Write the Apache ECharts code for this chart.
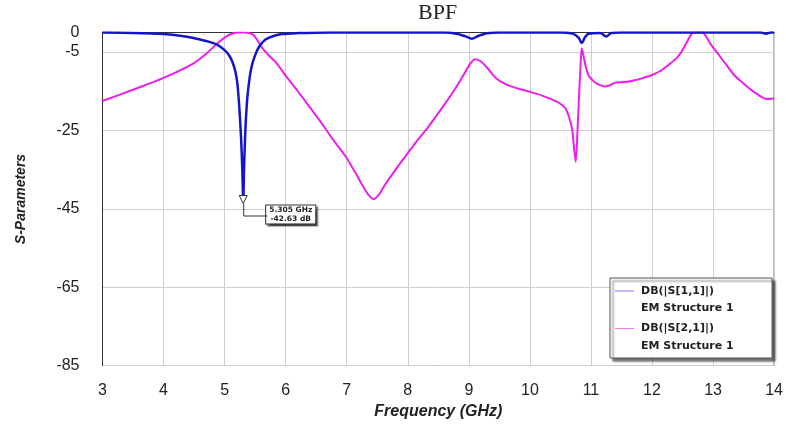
<!DOCTYPE html>
<html>
<head>
<meta charset="utf-8">
<title>BPF</title>
<script src="https://cdn.jsdelivr.net/npm/echarts@6/dist/echarts.min.js"></script>
<style>
  html, body { margin: 0; padding: 0; background: #fff; }
  #chart { width: 786px; height: 427px; }
</style>
</head>
<body>
<div id="chart"></div>
<script>
// Simulated S-parameters of the band-pass filter (EM Structure 1)
const seriesNames = ['DB(|S[1,1]|)', 'DB(|S[2,1]|)'];
const structureName = 'EM Structure 1';

// |S11| in dB
const freqS11 = [3.0, 3.5, 4.0, 4.3, 4.58, 4.75, 4.89, 5.0, 5.08, 5.13, 5.18, 5.21, 5.24, 5.27, 5.29,
  5.305, 5.32, 5.34, 5.37, 5.41, 5.45, 5.51, 5.57, 5.67, 5.8, 5.94, 6.2, 6.5, 7.0, 8.0, 8.6, 8.8,
  8.95, 9.05, 9.15, 9.3, 9.5, 10.5, 10.7, 10.8, 10.85, 10.9, 10.96, 11.15, 11.25, 11.33, 11.5,
  13.78, 13.87, 13.94, 14.0];
const dbS11 = [0, -0.1, -0.4, -0.9, -1.7, -2.4, -3.2, -4.5, -6.0, -7.6, -10.2, -13.2, -19, -27, -35,
  -42.63, -34, -25, -17, -11.5, -8.2, -5.4, -3.5, -1.8, -0.9, -0.4, -0.15, -0.05, 0, 0, 0, -0.3,
  -1.0, -1.6, -0.9, -0.2, 0, 0, -0.3, -1.4, -2.7, -1.3, -0.3, -0.15, -1.0, -0.15, 0,
  0, -0.35, 0, 0];

// |S21| in dB
const freqS21 = [3.0, 3.5, 4.0, 4.5, 4.7, 4.89, 5.03, 5.13, 5.22, 5.31, 5.4, 5.47, 5.53, 5.6, 5.72,
  5.85, 6.0, 6.2, 6.4, 6.55, 6.77, 6.98, 7.15, 7.25, 7.35, 7.44, 7.53, 7.63, 7.8, 7.96, 8.18, 8.34,
  8.55, 8.75, 8.9, 9.0, 9.1, 9.2, 9.3, 9.44, 9.6, 9.8, 9.99, 10.2, 10.35, 10.48, 10.58, 10.64,
  10.69, 10.72, 10.75, 10.78, 10.8, 10.83, 10.85, 10.88, 10.92, 10.97, 11.08, 11.16, 11.24, 11.32,
  11.4, 11.5, 11.62, 11.72, 11.85, 11.99, 12.15, 12.26, 12.4, 12.48, 12.56, 12.65, 12.7, 12.82,
  12.87, 12.95, 13.08, 13.2, 13.35, 13.5, 13.63, 13.75, 13.84, 13.92, 14.0];
const dbS21 = [-17.5, -14.6, -11.6, -7.8, -5.4, -2.7, -1.0, -0.25, 0, 0, -0.15, -0.6, -1.8, -3.6, -5.8,
  -7.8, -11, -15, -19.2, -22.3, -27.2, -31.6, -36, -38.8, -41.3, -42.5, -41.3, -38.8, -35, -31.6, -27.1, -24,
  -19.5, -15, -11.2, -8.5, -6.8, -7.4, -9.0, -11.6, -13.2, -14.3, -15.1, -16.1, -17.0, -18.0, -19.3, -21.5,
  -24.5, -29, -33, -25, -18, -8.5, -4.0, -6.1, -9.0, -11.2, -12.9, -13.5, -13.8, -13.4,
  -12.8, -12.7, -12.5, -12.2, -11.6, -10.9, -9.7, -8.4, -6.6, -5.0, -2.8, -0.3, 0, 0,
  -0.6, -2.7, -5.4, -7.9, -10.9, -13.0, -14.7, -16.0, -16.8, -17.0, -16.8];

// Marker placed on the S11 resonance
const markerFreq = [5.305];
const markerDb = [-42.63];

const lineColors = ['#1414c8', '#ee1eee'];
const legendLineColors = ['#7878f0', '#f27af2'];

const pairs = (xs, ys) => xs.map((x, i) => [x, ys[i]]);

const chart = echarts.init(document.getElementById('chart'), null, { renderer: 'canvas' });

const sansFont = 'Liberation Sans, Arial, sans-serif';
const wideFont = 'DejaVu Sans, Verdana, sans-serif';

const option = {
  backgroundColor: '#ffffff',
  animation: false,
  title: {
    text: 'BPF',
    left: 418,
    top: 2,
    padding: 0,
    textStyle: { fontFamily: 'Liberation Serif, Times New Roman, serif', fontWeight: 'normal', fontSize: 22, color: '#222' }
  },
  grid: {
    left: 102.5, right: 10, top: 32.5, bottom: 61.5,
    show: true, borderColor: '#555', borderWidth: 1, backgroundColor: '#fff'
  },
  xAxis: {
    type: 'value',
    min: 3, max: 14, interval: 1,
    name: 'Frequency (GHz)',
    nameLocation: 'middle',
    nameGap: 34,
    nameTextStyle: { fontFamily: sansFont, fontStyle: 'italic', fontWeight: 'bold', fontSize: 16, color: '#222' },
    axisLine: { show: true, lineStyle: { color: '#333', width: 1 } },
    axisTick: { show: false },
    axisLabel: { fontFamily: sansFont, fontSize: 16, color: '#222', margin: 17 },
    splitLine: { show: true, lineStyle: { color: '#cfcfcf', width: 1 } }
  },
  yAxis: {
    type: 'value',
    min: -85, max: 0, interval: 20,
    name: 'S-Parameters',
    nameLocation: 'middle',
    nameGap: 74,
    nameTextStyle: { fontFamily: sansFont, fontStyle: 'italic', fontWeight: 'bold', fontSize: 14, color: '#222' },
    axisLine: { show: true, lineStyle: { color: '#333', width: 1 } },
    axisTick: { show: false },
    axisLabel: { fontFamily: sansFont, fontSize: 16, color: '#222', margin: 23 },
    splitLine: { show: true, lineStyle: { color: '#cfcfcf', width: 1 } }
  },
  legend: {
    orient: 'vertical',
    left: 610, top: 278,
    padding: [7, 6, 6, 0],
    itemGap: 8,
    itemWidth: 0, itemHeight: 0,
    icon: 'rect',
    selectedMode: false,
    backgroundColor: '#fff',
    borderColor: '#555', borderWidth: 1,
    shadowColor: 'rgba(0,0,0,0.55)', shadowBlur: 2, shadowOffsetX: 3, shadowOffsetY: 3,
    data: seriesNames,
    formatter: (name) => {
      const i = seriesNames.indexOf(name);
      return '{b' + i + '|}{g|}{t|' + name + '}\n{s|}{g|}{t|' + structureName + '}';
    },
    textStyle: {
      rich: {
        b0: { width: 19, height: 1, lineHeight: 17.5, backgroundColor: legendLineColors[0] },
        b1: { width: 19, height: 1, lineHeight: 17.5, backgroundColor: legendLineColors[1] },
        s: { width: 19, lineHeight: 17.5 },
        g: { width: 7, lineHeight: 17.5 },
        t: { width: 125, fontFamily: wideFont, fontWeight: 'bold', fontSize: 11, color: '#222', lineHeight: 17.5 }
      }
    }
  },
  series: [
    {
      name: seriesNames[0],
      type: 'line',
      data: pairs(freqS11, dbS11),
      showSymbol: false,
      symbol: 'none',
      smooth: 0.3,
      z: 3,
      lineStyle: { color: lineColors[0], width: 2.5 },
      itemStyle: { color: lineColors[0] },
      markPoint: {
        silent: true,
        data: [
          {
            coord: [markerFreq[0], markerDb[0]],
            symbol: 'triangle',
            symbolRotate: 180,
            symbolSize: [8, 8],
            itemStyle: { color: '#fff', borderColor: '#333', borderWidth: 1 },
            label: { show: false }
          },
          {
            coord: [markerFreq[0], markerDb[0]],
            symbol: 'circle',
            symbolSize: 0,
            label: {
              show: true,
              position: 'inside',
              offset: [47.5, 15],
              formatter: () => markerFreq[0].toFixed(3) + ' GHz\n' + markerDb[0].toFixed(2) + ' dB',
              fontFamily: wideFont, fontWeight: 'bold', fontSize: 7.5, lineHeight: 8.5,
              color: '#222', align: 'center',
              backgroundColor: '#fff', borderColor: '#333', borderWidth: 1,
              padding: [1, 3, 0, 3],
              shadowColor: 'rgba(0,0,0,0.5)', shadowBlur: 1, shadowOffsetX: 2, shadowOffsetY: 2
            }
          }
        ]
      }
    },
    {
      name: seriesNames[1],
      type: 'line',
      data: pairs(freqS21, dbS21),
      showSymbol: false,
      symbol: 'none',
      smooth: 0.3,
      z: 2,
      lineStyle: { color: lineColors[1], width: 2 },
      itemStyle: { color: lineColors[1] }
    }
  ]
};

chart.setOption(option);

// Leader line from the marker triangle to its readout box
const p = chart.convertToPixel({ seriesIndex: 0 }, [markerFreq[0], markerDb[0]]);
chart.setOption({
  graphic: [{
    type: 'polyline',
    silent: true,
    z: 10,
    shape: { points: [[p[0] + 0.5, p[1] + 4], [p[0] + 0.5, p[1] + 16.5], [p[0] + 24, p[1] + 16.5]] },
    style: { stroke: '#333', lineWidth: 1, fill: null }
  }]
});
</script>
</body>
</html>
